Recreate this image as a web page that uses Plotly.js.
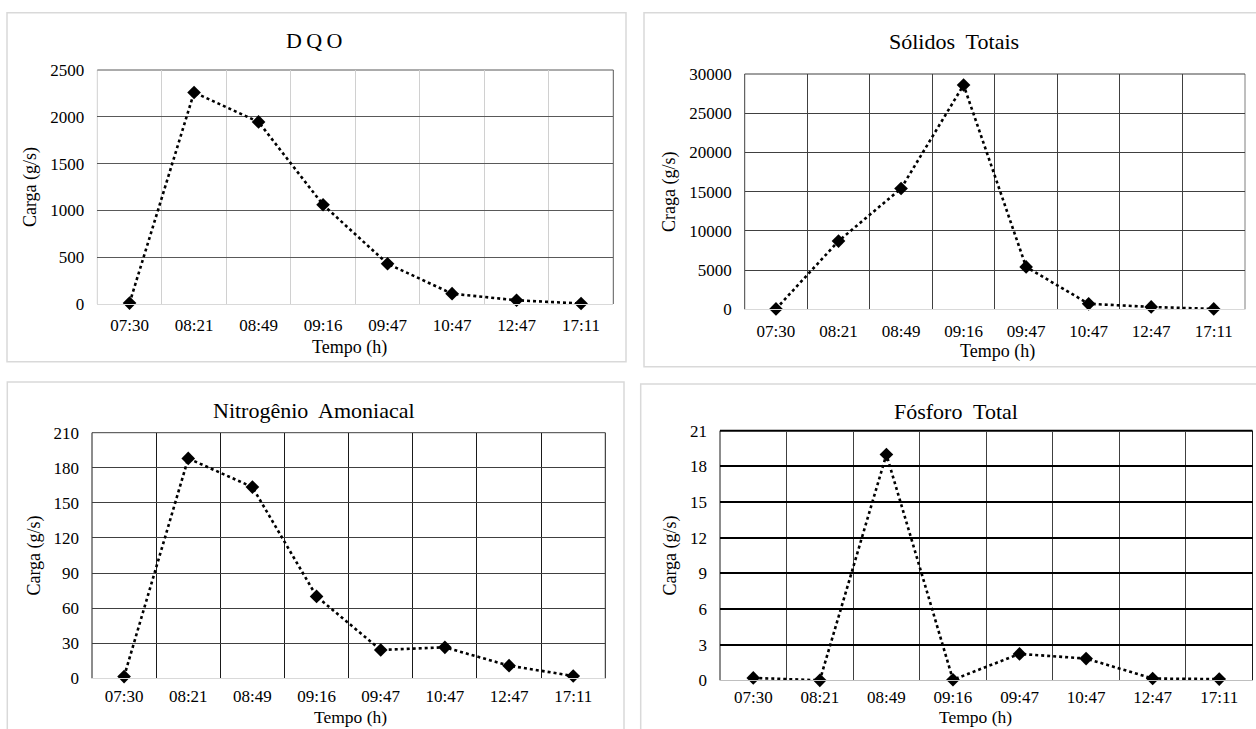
<!DOCTYPE html>
<html>
<head>
<meta charset="utf-8">
<script src="https://cdn.plot.ly/plotly-3.0.1.min.js"></script>
<style>html,body{margin:0;padding:0;background:#fff}#chart{width:1256px;height:729px}</style>
</head>
<body>
<div id="chart"></div>
<script>
// ---- data ----
const times = ['07:30', '08:21', '08:49', '09:16', '09:47', '10:47', '12:47', '17:11'];
const dqo = [10, 2260, 1945, 1060, 430, 110, 40, 5];
const solidosTotais = [50, 8700, 15400, 28600, 5400, 700, 300, 50];
const nitrogenioAmoniacal = [1.5, 188, 163.5, 70, 24.2, 26.5, 10.8, 2.0];
const fosforoTotal = [0.2, 0.0, 19.0, 0.05, 2.22, 1.83, 0.15, 0.1];

const chartTitles = ['D\u2009Q\u2009O', 'Sólidos  Totais', 'Nitrogênio  Amoniacal', 'Fósforo  Total'];
const yTitles = ['Carga (g/s)', 'Craga (g/s)', 'Carga (g/s)', 'Carga (g/s)'];
const xTitle = 'Tempo (h)';
const yRanges = [[0, 2500], [0, 30000], [0, 210], [0, 21]];
const yDticks = [500, 5000, 30, 3];

// ---- layout geometry (pixels) ----
const W = 1256, H = 729;
const px = x => x / W;
const py = y => 1 - y / H;
const FONT = '"Liberation Serif", "Times New Roman", "DejaVu Serif", serif';

const panels = [
  {plot: [97.3, 613.3, 70, 304], frame: [7, 626, 12.7, 361.7], title: [314, 40.7], xt: [349, 347.5], xtSize: 18,
   hgrid: {c: '#595959', w: 1}, vgrid: {c: '#d0d0d0', w: 1},
   left: {c: '#d0d0d0', w: 1}, right: {c: '#595959', w: 1}, bottom: '#d9d9d9', lstand: 6},
  {plot: [744.7, 1245, 74, 309.3], frame: [644, 1270, 12.7, 366.7], title: [954, 41.7], xt: [997, 351.5], xtSize: 18,
   hgrid: {c: '#404040', w: 1}, vgrid: {c: '#404040', w: 1},
   left: {c: '#404040', w: 1}, right: {c: '#7f7f7f', w: 1}, bottom: '#d9d9d9', lstand: 6},
  {plot: [92, 605.3, 432.7, 678.3], frame: [7.3, 624, 382, 760], title: [314, 410], xt: [350, 716.5], xtSize: 17.5,
   hgrid: {c: '#404040', w: 1}, vgrid: {c: '#1a1a1a', w: 1},
   left: {c: '#1a1a1a', w: 1}, right: {c: '#1a1a1a', w: 1}, bottom: '#d9d9d9', lstand: 2},
  {plot: [720, 1252.5, 430.7, 680.3], frame: [640.7, 1270, 384, 760], title: [956, 411.7], xt: [975, 717], xtSize: 17.5,
   hgrid: {c: '#000000', w: 2}, vgrid: {c: '#404040', w: 1},
   left: {c: '#1a1a1a', w: 1}, right: {c: '#1a1a1a', w: 1}, bottom: '#bfbfbf', lstand: 1}
];
const series = [dqo, solidosTotais, nitrogenioAmoniacal, fosforoTotal];

const data = [];
const layout = {
  width: W, height: H,
  margin: {l: 0, r: 0, t: 0, b: 0},
  paper_bgcolor: '#ffffff', plot_bgcolor: '#ffffff',
  showlegend: false,
  font: {family: FONT, color: '#000000', size: 17},
  shapes: [], annotations: []
};

panels.forEach((p, i) => {
  const n = i + 1;
  const xa = 'x' + (n === 1 ? '' : n), ya = 'y' + (n === 1 ? '' : n);
  const xk = 'xaxis' + (n === 1 ? '' : n), yk = 'yaxis' + (n === 1 ? '' : n);
  data.push({
    type: 'scatter', mode: 'lines+markers',
    x: times, y: series[i], xaxis: xa, yaxis: ya,
    line: {color: '#000000', width: 2.6, dash: 'dot'},
    marker: {symbol: 'diamond', size: 10.5, color: '#000000'},
    cliponaxis: false, hoverinfo: 'x+y'
  });
  const [x0, x1, y0, y1] = p.plot;
  layout[xk] = {
    domain: [px(x0), px(x1)], anchor: ya,
    type: 'category', categoryorder: 'array', categoryarray: times,
    range: [-0.5, times.length - 0.5], tickson: 'boundaries',
    showgrid: true, gridcolor: p.vgrid.c, gridwidth: p.vgrid.w,
    showline: true, linecolor: p.bottom, linewidth: 1,
    ticks: '', zeroline: false, fixedrange: true,
    tickfont: {family: FONT, size: 17, color: '#000'},
    ticklabelstandoff: p.lstand
  };
  layout[yk] = {
    domain: [py(y1), py(y0)], anchor: xa,
    range: yRanges[i], dtick: yDticks[i], tick0: 0, tickformat: 'd',
    showgrid: true, gridcolor: p.hgrid.c, gridwidth: p.hgrid.w,
    showline: false, zeroline: false, ticks: '', fixedrange: true,
    tickfont: {family: FONT, size: 17, color: '#000'},
    ticklabelstandoff: 12,
    title: {text: yTitles[i], font: {family: FONT, size: 18, color: '#000'}, standoff: 8}
  };
  // outer frame
  const [fx0, fx1, fy0, fy1] = p.frame;
  layout.shapes.push({type: 'rect', xref: 'paper', yref: 'paper',
    x0: px(fx0), x1: px(fx1), y0: py(fy1), y1: py(fy0),
    line: {color: '#d9d9d9', width: 1.5}, layer: 'below'});
  // plot borders
  layout.shapes.push({type: 'line', xref: 'paper', yref: 'paper',
    x0: px(x0), x1: px(x0), y0: py(y1), y1: py(y0), line: {color: p.left.c, width: p.left.w}, layer: 'below'});
  layout.shapes.push({type: 'line', xref: 'paper', yref: 'paper',
    x0: px(x1), x1: px(x1), y0: py(y1), y1: py(y0), line: {color: p.right.c, width: p.right.w}, layer: 'below'});
  layout.shapes.push({type: 'line', xref: 'paper', yref: 'paper',
    x0: px(x0), x1: px(x1), y0: py(y0), y1: py(y0), line: {color: p.hgrid.c, width: p.hgrid.w}, layer: 'below'});
  // chart title
  layout.annotations.push({text: chartTitles[i], xref: 'paper', yref: 'paper',
    x: px(p.title[0]), y: py(p.title[1]), xanchor: 'center', yanchor: 'middle',
    showarrow: false, font: {family: FONT, size: 22, color: '#000'}});
  // x-axis title
  layout.annotations.push({text: xTitle, xref: 'paper', yref: 'paper',
    x: px(p.xt[0]), y: py(p.xt[1]), xanchor: 'center', yanchor: 'middle',
    showarrow: false, font: {family: FONT, size: p.xtSize, color: '#000'}});
});

Plotly.newPlot('chart', data, layout, {displayModeBar: false, staticPlot: true});
</script>
</body>
</html>
